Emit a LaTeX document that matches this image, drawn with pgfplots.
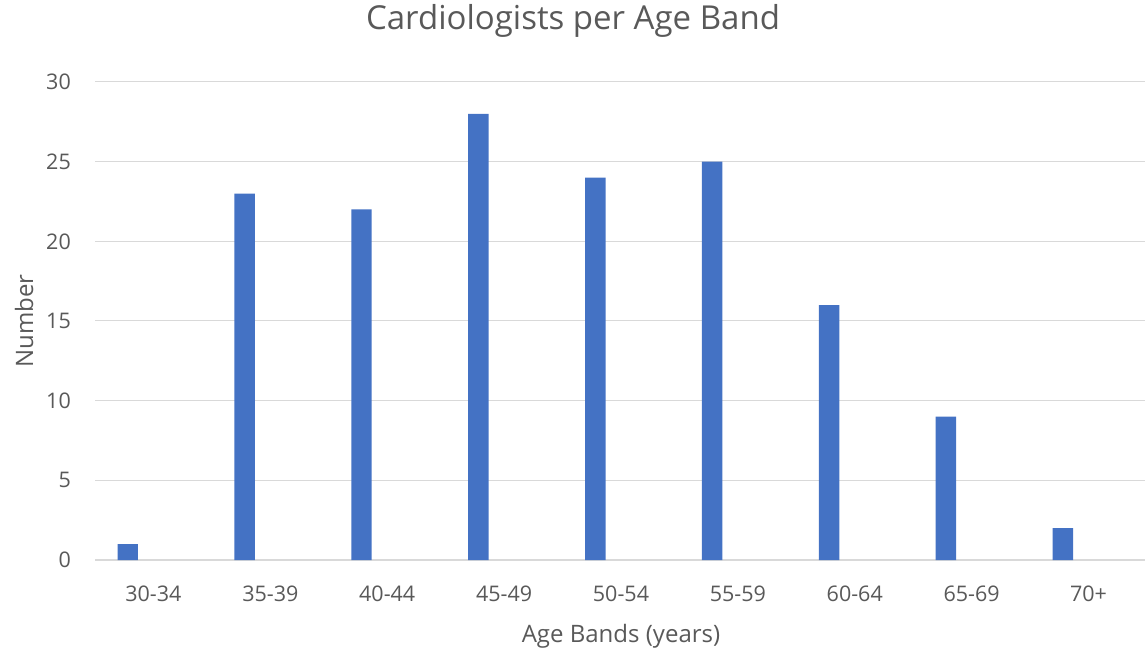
\documentclass[border=0pt]{standalone}
\usepackage{pgfplots}
\pgfplotsset{compat=1.18}
\usepackage{fontspec}
\setmainfont{Open Sans}
\definecolor{barblue}{HTML}{4472C4}
\definecolor{gridgray}{HTML}{D9D9D9}
\definecolor{txtgray}{HTML}{595959}
\begin{document}
\begin{tikzpicture}
\path[use as bounding box] (0,0) rectangle (1145bp,651bp);
\begin{axis}[
  at={(95bp,91bp)}, anchor=south west,
  scale only axis, width=1052bp, height=478bp,
  xmin=-0.5, xmax=8.5, ymin=0, ymax=30,
  xtick={0,...,8},
  xticklabels={30-34,35-39,40-44,45-49,50-54,55-59,60-64,65-69,70+},
  ytick={0,5,...,30},
  axis x line*=bottom, axis y line*=left,
  x axis line style={gridgray, line width=1.2bp, -},
  y axis line style={draw=none},
  major tick length=0pt,
  ymajorgrids, grid style={gridgray, line width=1bp},
  /pgf/number format/assume math mode=true,
  ticklabel style={font=\fontsize{21.5bp}{26bp}\selectfont, text=txtgray, inner sep=0pt},
  xticklabel style={anchor=base, yshift=-41bp},
  yticklabel style={anchor=east, xshift=-24bp},
  xlabel={Age Bands (years)},
  ylabel={Number},
  label style={font=\fontsize{24bp}{28bp}\selectfont, text=txtgray, inner sep=0pt},
  xlabel style={at={(axis description cs:0.5,0)}, anchor=base, yshift=-82bp},
  ylabel style={at={(axis description cs:-0.0589,0.5)}, anchor=base, rotate=0},
  title={Cardiologists per Age Band},
  title style={font=\fontsize{33bp}{38bp}\selectfont, text=txtgray, inner sep=0pt, at={(axis description cs:0.4544,1)}, anchor=base, yshift=47bp},
  clip=false,
]
\addplot[ybar, fill=barblue, draw=none, bar width=0.175, bar shift=-0.22]
  coordinates {(0,1) (1,23) (2,22) (3,28) (4,24) (5,25) (6,16) (7,9) (8,2)};
\end{axis}
\end{tikzpicture}
\end{document}
